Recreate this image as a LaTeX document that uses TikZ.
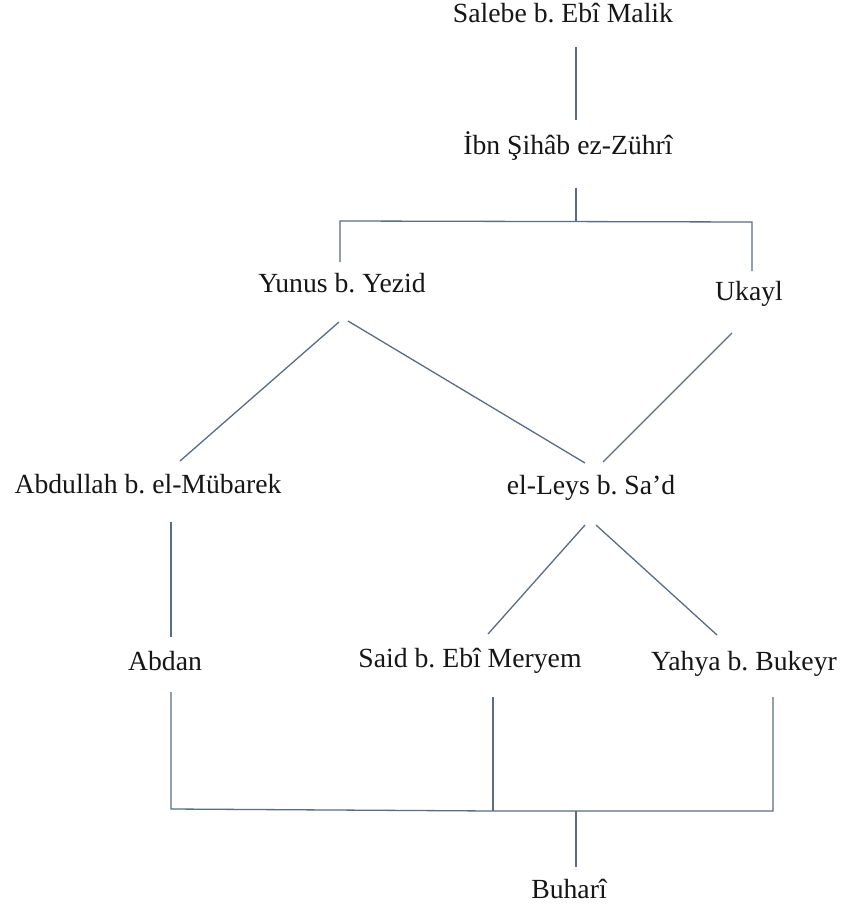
\documentclass[tikz,border=0pt]{standalone}
\usepackage{fontspec}
\setmainfont{Liberation Serif}
\frenchspacing
\definecolor{ln}{RGB}{92,108,130}
\definecolor{txt}{RGB}{22,22,22}
\begin{document}
\begin{tikzpicture}[x=1pt,y=-1pt,
  person/.style={font=\fontsize{27.7}{33}\selectfont, text=txt, anchor=base, inner sep=0pt},
  link/.style={draw=ln, line width=1.3pt}]
\fill[white] (0,0) rectangle (844,912);
\useasboundingbox (0,0) rectangle (844,912);
% people
\node[person] (salebe)   at (563,23)  {Salebe b. Ebî Malik};
\node[person] (ibn)      at (568,155) {İbn Şihâb ez-Zührî};
\node[person] (yunus)    at (342,292) {Yunus b. Yezid};
\node[person] (ukayl)    at (749,300) {Ukayl};
\node[person] (abdullah) at (148,493) {Abdullah b. el-Mübarek};
\node[person] (leys)     at (591,494) {el-Leys b. Sa’d};
\node[person] (abdan)    at (165,670) {Abdan};
\node[person] (said)     at (470,667) {Said b. Ebî Meryem};
\node[person] (yahya)    at (744,670) {Yahya b. Bukeyr};
\node[person] (buhari)   at (569,898) {Buharî};
% connector end points
\coordinate (salebe-s) at (576,47);
\coordinate (ibn-n)    at (576,120);
\coordinate (ibn-s)    at (576,188);
\coordinate (j1)       at (576,221);
\coordinate (j1l)      at (340,221);
\coordinate (j1r)      at (752,222);
\coordinate (yunus-n)  at (340,262);
\coordinate (ukayl-n)  at (752,271);
\coordinate (yunus-sl) at (339,322);
\coordinate (yunus-sr) at (348,321);
\coordinate (ukayl-s)  at (732,333);
\coordinate (abdullah-n) at (180,461);
\coordinate (leys-nl)  at (585,463);
\coordinate (leys-nr)  at (603,462);
\coordinate (abdullah-s) at (171,522);
\coordinate (abdan-n)  at (171,637);
\coordinate (leys-sl)  at (585,525);
\coordinate (leys-sr)  at (596,525);
\coordinate (said-n)   at (488,634);
\coordinate (yahya-n)  at (717,635);
\coordinate (abdan-s)  at (171,692);
\coordinate (said-s)   at (493,697);
\coordinate (yahya-s)  at (773,697);
\coordinate (j2l)      at (171,809);
\coordinate (j2m)      at (493,811);
\coordinate (j2)       at (576,811);
\coordinate (j2r)      at (773,811);
\coordinate (buhari-n) at (576,867);
% connectors
\draw[link] (salebe-s) -- (ibn-n);
\draw[link] (ibn-s) -- (j1);
\draw[link] (yunus-n) -- (j1l) -- (j1r) -- (ukayl-n);
\draw[link] (yunus-sl) -- (abdullah-n);
\draw[link] (yunus-sr) -- (leys-nl);
\draw[link] (ukayl-s) -- (leys-nr);
\draw[link] (abdullah-s) -- (abdan-n);
\draw[link] (leys-sl) -- (said-n);
\draw[link] (leys-sr) -- (yahya-n);
\draw[link] (abdan-s) -- (j2l) -- (j2m) -- (j2r) -- (yahya-s);
\draw[link] (said-s) -- (j2m);
\draw[link] (j2) -- (buhari-n);
\end{tikzpicture}
\end{document}
